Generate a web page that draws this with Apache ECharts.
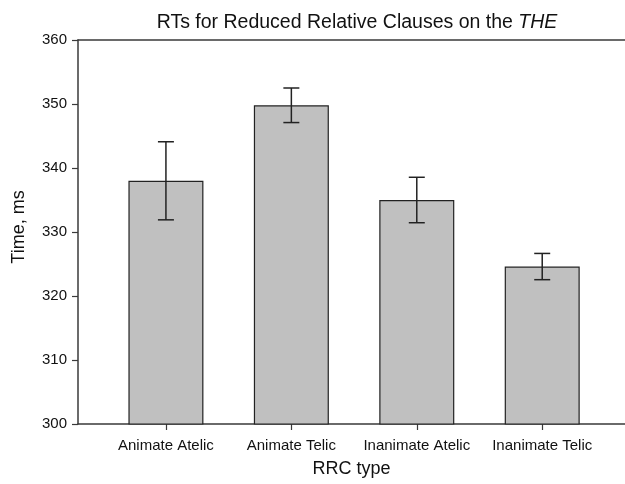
<!DOCTYPE html>
<html>
<head>
<meta charset="utf-8">
<script src="https://cdn.jsdelivr.net/npm/echarts@6/dist/echarts.min.js"></script>
<style>html,body{margin:0;padding:0;background:#fff}#c{width:625px;height:484px}</style>
</head>
<body>
<div id="c"></div>
<script>
var categories = ['Animate Atelic', 'Animate Telic', 'Inanimate Atelic', 'Inanimate Telic'];
var positions = [1, 2, 3, 4];
var means = [338.0, 349.8, 335.0, 324.6];
var errors = [6.1, 2.7, 3.55, 2.05];
var yTicks = [300, 310, 320, 330, 340, 350, 360];

var chart = echarts.init(document.getElementById('c'), null, {renderer: 'canvas'});
var FONT = 'Liberation Sans, Arial, sans-serif';
var lineCol = '#3a3a3a';

var barData = positions.map(function (p, i) { return [p, means[i]]; });
var errData = positions.map(function (p, i) { return [p, means[i] - errors[i], means[i] + errors[i]]; });

chart.setOption({
  animation: false,
  backgroundColor: '#fff',
  title: {
    text: 'RTs for Reduced Relative Clauses on the {i|THE}',
    left: 352, top: 8, textAlign: 'center',
    textStyle: {
      fontFamily: FONT, fontSize: 19.5, fontWeight: 'normal', color: '#111',
      rich: {i: {fontFamily: FONT, fontSize: 19.5, fontStyle: 'italic', color: '#111'}}
    }
  },
  grid: {left: 78, right: 0, top: 40, bottom: 60, containLabel: false},
  xAxis: [{
    type: 'value', min: 0.299, max: 4.66,
    splitLine: {show: false},
    axisLine: {show: true, lineStyle: {color: lineCol, width: 1.5}},
    axisTick: {show: true, customValues: positions, length: 6, lineStyle: {color: lineCol, width: 1.2}},
    axisLabel: {
      customValues: positions, margin: 14, color: '#111', fontFamily: FONT, fontSize: 15,
      formatter: function (v) { return categories[Math.round(v) - 1] || ''; }
    },
    name: 'RRC type', nameLocation: 'middle', nameGap: 36,
    nameTextStyle: {fontFamily: FONT, fontSize: 18, color: '#111'}
  }, {
    type: 'value', min: 0.299, max: 4.66, position: 'top',
    splitLine: {show: false},
    axisLine: {show: true, lineStyle: {color: lineCol, width: 1.5}},
    axisTick: {show: false}, axisLabel: {show: false}
  }],
  yAxis: {
    type: 'value', min: yTicks[0], max: yTicks[yTicks.length - 1], interval: 10,
    splitLine: {show: false},
    axisLine: {show: true, lineStyle: {color: lineCol, width: 1.5}},
    axisTick: {show: true, length: 6, lineStyle: {color: lineCol, width: 1.2}},
    axisLabel: {margin: 11, color: '#111', fontFamily: FONT, fontSize: 15},
    name: 'Time, ms', nameLocation: 'middle', nameGap: 50, nameRotate: 90,
    nameTextStyle: {fontFamily: FONT, fontSize: 18, color: '#111', padding: [0, 0, 0, 10]}
  },
  series: [{
    type: 'bar',
    data: barData,
    barWidth: 75,
    itemStyle: {color: '#c0c0c0', borderColor: '#222', borderWidth: 1.2}
  }, {
    type: 'custom',
    data: errData,
    z: 5,
    renderItem: function (params, api) {
      var x = api.value(0);
      var lo = api.coord([x, api.value(1)]);
      var hi = api.coord([x, api.value(2)]);
      var hw = 8;
      var st = {stroke: '#222', lineWidth: 1.5};
      return {
        type: 'group',
        children: [
          {type: 'line', shape: {x1: lo[0], y1: lo[1], x2: hi[0], y2: hi[1]}, style: st},
          {type: 'line', shape: {x1: hi[0] - hw, y1: hi[1], x2: hi[0] + hw, y2: hi[1]}, style: st},
          {type: 'line', shape: {x1: lo[0] - hw, y1: lo[1], x2: lo[0] + hw, y2: lo[1]}, style: st}
        ]
      };
    }
  }]
});
</script>
</body>
</html>
